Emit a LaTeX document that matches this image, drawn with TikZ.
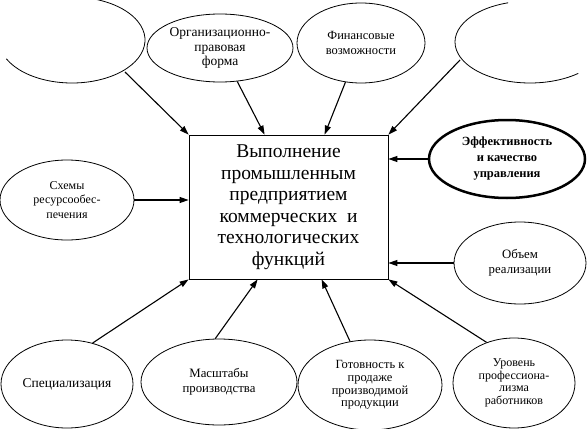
\documentclass[tikz,border=0pt]{standalone}
\usepackage{fontspec}
\setmainfont{Liberation Serif}
\usetikzlibrary{shapes.geometric,arrows.meta}
\begin{document}
\begin{tikzpicture}[x=1pt,y=-1pt,
 ell/.style={ellipse,draw,line width=0.8pt,inner sep=0pt,align=center,font=\fontsize{12.8}{14.5}\selectfont},
 arr/.style={line width=1.1pt,-{Triangle[length=9pt,width=6pt]}},
 thinline/.style={line width=0.8pt}]
\useasboundingbox (0,0) rectangle (588,428);
\clip (0,0) rectangle (588,428);
\node[draw,line width=0.8pt,minimum width=199pt,minimum height=144pt,inner sep=0pt,align=center,font=\fontsize{19.5}{21.5}\selectfont] (box) at (288.5,207)
 {Выполнение\\промышленным\\предприятием\\коммерческих~~и\\технологических\\функций};
\node[ell,minimum width=146pt,minimum height=68pt,font=\fontsize{13.5}{14.5}\selectfont] (org) at (220,48) {Организационно-\\правовая\\форма};
\node[ell,minimum width=128pt,minimum height=80pt,font=\fontsize{12.5}{15}\selectfont] (fin) at (361,43) {Финансовые\\возможности};
\node[ell,line width=2.5pt,minimum width=156pt,minimum height=78pt,font=\fontsize{12.5}{16}\selectfont\bfseries] (eff) at (507,159) {Эффективность\\и качество\\управления};
\node[ell,minimum width=132pt,minimum height=82pt] (obem) at (520,263) {Объем\\реализации};
\node[ell,minimum width=134pt,minimum height=80pt,font=\fontsize{12}{14.5}\selectfont] (skh) at (67,200) {Схемы\\ресурсообес-\\печения};
\node[ell,minimum width=132pt,minimum height=88pt,font=\fontsize{13.5}{15}\selectfont] (spec) at (67,384) {Специализация};
\node[ell,minimum width=156pt,minimum height=86pt] (mas) at (219,382) {Масштабы\\производства};
\node[ell,minimum width=144pt,minimum height=90pt,font=\fontsize{12.5}{12.5}\selectfont] (got) at (370,385) {Готовность к\\продаже\\производимой\\продукции};
\node[ell,minimum width=122pt,minimum height=90pt,font=\fontsize{12}{12.5}\selectfont] (urov) at (514,383) {Уровень\\профессиона-\\лизма\\работников};
% partial ellipses
\draw[thinline] (72,40) ++(-206:73 and 43) arc[start angle=-206,end angle=-450,x radius=73,y radius=43];
\draw[thinline] (530,42) ++(-107:75 and 41) arc[start angle=-107,end angle=-310,x radius=75,y radius=41];
\coordinate (tl) at (125,72);
\coordinate (tr) at (460,60);
% arrows
\draw[arr] (tl) -- (box.north west);
\draw[arr] (org) -- ([xshift=76pt]box.north west);
\draw[arr] (fin) -- ([xshift=136pt]box.north west);
\draw[arr] (tr) -- (box.north east);
\draw[arr] (eff.west) -- (eff.west -| box.east);
\draw[arr] (obem.west) -- (obem.west -| box.east);
\draw[arr] (skh.east) -- (skh.east -| box.west);
\draw[arr] (spec.58) -- (box.south west);
\draw[arr] (mas.95) -- ([xshift=69pt]box.south west);
\draw[arr] (got) -- ([xshift=133pt]box.south west);
\draw[arr] (urov.124) -- (box.south east);
\end{tikzpicture}
\end{document}
